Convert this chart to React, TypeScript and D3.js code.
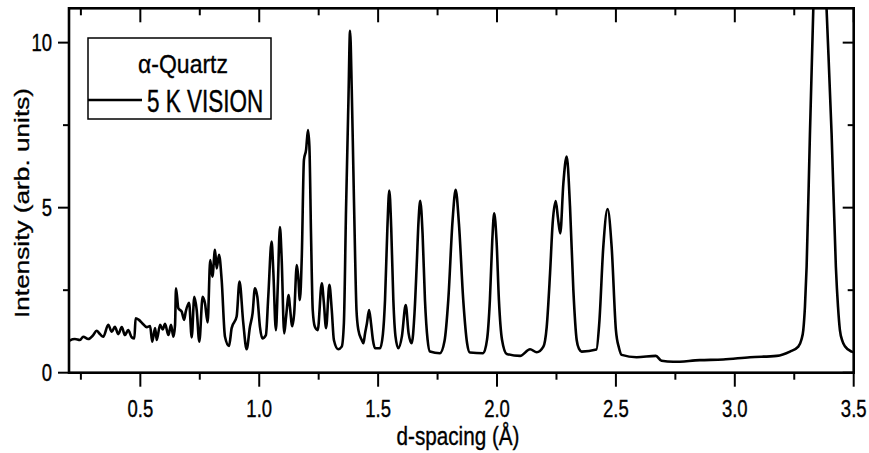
import React from "react";
import * as d3 from "d3";

// d-spacing (Å) and intensity (arb. units)
const dSpacing = [
  0.2, 0.204, 0.225, 0.246, 0.26, 0.281, 0.302, 0.316, 0.33, 0.344, 0.365, 0.38, 0.393, 0.407, 0.422,
  0.435, 0.449, 0.464, 0.475, 0.48, 0.494, 0.508, 0.527, 0.541, 0.55, 0.562, 0.569, 0.583, 0.594,
  0.604, 0.618, 0.629, 0.639, 0.646, 0.65, 0.66, 0.674, 0.684, 0.691, 0.705, 0.716, 0.727, 0.737,
  0.748, 0.762, 0.772, 0.783, 0.794, 0.803, 0.814, 0.821, 0.831, 0.842, 0.856, 0.873, 0.884, 0.905,
  0.917, 0.933, 0.947, 0.961, 0.972, 0.982, 0.992, 1.003, 1.013, 1.028, 1.038, 1.052, 1.059, 1.07,
  1.078, 1.087, 1.094, 1.105, 1.113, 1.124, 1.129, 1.139, 1.147, 1.158, 1.164, 1.171, 1.179, 1.188,
  1.197, 1.205, 1.211, 1.218, 1.225, 1.234, 1.246, 1.263, 1.272, 1.281, 1.295, 1.305, 1.314, 1.332,
  1.347, 1.356, 1.365, 1.375, 1.382, 1.389, 1.396, 1.403, 1.409, 1.417, 1.431, 1.438, 1.445, 1.453,
  1.462, 1.47, 1.478, 1.487, 1.508, 1.52, 1.529, 1.539, 1.547, 1.555, 1.564, 1.573, 1.585, 1.6,
  1.616, 1.628, 1.641, 1.653, 1.662, 1.67, 1.677, 1.687, 1.697, 1.708, 1.718, 1.76, 1.779, 1.795,
  1.813, 1.826, 1.84, 1.858, 1.874, 1.886, 1.942, 1.958, 1.97, 1.98, 1.988, 1.998, 2.008, 2.021,
  2.041, 2.097, 2.139, 2.167, 2.195, 2.209, 2.223, 2.234, 2.247, 2.256, 2.266, 2.279, 2.293, 2.307,
  2.321, 2.335, 2.345, 2.356, 2.418, 2.43, 2.447, 2.465, 2.482, 2.5, 2.513, 2.524, 2.587, 2.668,
  2.692, 2.741, 2.853, 2.951, 3.064, 3.176, 3.232, 3.267, 3.28, 3.288, 3.295, 3.302, 3.316, 3.33,
  3.354, 3.386, 3.407, 3.425, 3.434, 3.442, 3.453, 3.463, 3.491, 3.5,
];
const intensity = [
  0.96, 0.98, 1.02, 0.99, 1.09, 1.02, 1.14, 1.27, 1.17, 1.09, 1.45, 1.24, 1.39, 1.17, 1.38,
  1.14, 1.29, 1.07, 1.04, 1.65, 1.6, 1.5, 1.38, 1.41, 0.94, 1.35, 0.99, 1.45, 1.31,
  1.48, 1.14, 1.45, 1.09, 1.45, 2.56, 1.95, 1.85, 1.6, 1.85, 2.12, 1.07, 2.3, 1.9,
  0.94, 2.3, 2.1, 1.52, 3.41, 2.91, 3.72, 3.16, 3.57, 2.81, 1.09, 0.81, 1.35, 1.7,
  2.76, 1.5, 0.71, 1.39, 1.8, 2.56, 2.3, 1.39, 1.04, 1.14, 2.3, 3.97, 3.11, 1.29,
  2.61, 4.41, 3.52, 1.19, 1.7, 2.35, 2.0, 1.41, 1.8, 3.26, 2.91, 2.2, 3.52, 6.45,
  6.75, 7.35, 6.85, 4.12, 1.9, 1.39, 1.29, 2.71, 2.1, 1.35, 2.66, 1.9, 0.99, 0.71,
  0.79, 1.5, 4.93, 8.2, 10.36, 8.6, 6.1, 3.6, 1.9, 1.29, 0.99, 0.89, 1.19, 1.5,
  1.9, 1.5, 1.0, 0.74, 0.74, 1.16, 2.2, 4.4, 5.52, 4.4, 2.2, 1.1, 0.74, 1.1,
  2.05, 1.2, 0.89, 1.8, 3.21, 4.6, 5.21, 4.2, 2.2, 1.0, 0.64, 0.59, 0.95, 2.2,
  4.6, 5.54, 4.5, 2.2, 0.9, 0.61, 0.59, 1.0, 2.2, 4.0, 4.83, 4.0, 2.2, 1.0,
  0.57, 0.51, 0.71, 0.62, 0.79, 1.39, 3.01, 4.53, 5.2, 4.7, 4.22, 5.74, 6.55, 5.03,
  2.51, 0.99, 0.72, 0.64, 0.7, 1.5, 3.82, 4.96, 3.82, 1.29, 0.75, 0.54, 0.47, 0.51,
  0.36, 0.33, 0.38, 0.4, 0.47, 0.51, 0.64, 0.79, 1.0, 1.29, 2.0, 3.21, 7.25, 11.0,
  17.0, 11.0, 7.25, 3.21, 2.0, 1.29, 0.95, 0.8, 0.64, 0.62,
];

const xMajor = [0.5, 1.0, 1.5, 2.0, 2.5, 3.0, 3.5];
const xMinor = [0.25, 0.75, 1.25, 1.75, 2.25, 2.75, 3.25];
const yMajor = [0, 5, 10];
const yMinor = [2.5, 7.5];
const xLabels = ["0.5", "1.0", "1.5", "2.0", "2.5", "3.0", "3.5"];
const yLabels = ["0", "5", "10"];
const legendTitle = "α-Quartz";
const seriesName = "5 K VISION";
const xTitle = "d-spacing (Å)";
const yTitle = "Intensity (arb. units)";

const W = 869;
const H = 453;
const L = 69;
const R = 853.7;
const T = 8.3;
const B = 372.7;
const FONT = "'Liberation Sans', Arial, Helvetica, sans-serif";

type STProps = {
  x: number;
  y: number;
  size: number;
  sy: number;
  anchor?: string;
  rotate?: boolean;
  children: React.ReactNode;
};

function SText({ x, y, size, sy, anchor = "middle", rotate = false, children }: STProps) {
  return (
    <g transform={`translate(${x},${y}) scale(1,${sy})`}>
      <text
        textAnchor={anchor}
        fontSize={size}
        fontFamily={FONT}
        fill="#000"
        stroke="#000"
        strokeWidth={0.3}
        transform={rotate ? "rotate(-90)" : undefined}
      >
        {children}
      </text>
    </g>
  );
}

export default function App() {
  const x = d3.scaleLinear().domain([0.2, 3.5]).range([L, R]);
  const y = d3.scaleLinear().domain([0, 11.04]).range([B, T]);
  const pts: [number, number][] = dSpacing.map((d, i) => [d, intensity[i]]);
  const line = d3
    .line<[number, number]>()
    .x((p) => x(p[0]))
    .y((p) => y(p[1]))
    .curve(d3.curveMonotoneX);

  const tickW = 2;
  return (
    <svg
      width={W}
      height={H}
      style={{ position: "absolute", left: 0, top: 0, background: "#fff" }}
    >
      <defs>
        <clipPath id="plot">
          <rect x={L} y={T} width={R - L} height={B - T} />
        </clipPath>
      </defs>
      <rect x={0} y={0} width={W} height={H} fill="#fff" />
      <path
        d={line(pts) || ""}
        fill="none"
        stroke="#000"
        strokeWidth={2.6}
        strokeLinejoin="round"
        clipPath="url(#plot)"
      />
      {xMajor.map((v) => (
        <g key={"xM" + v} stroke="#000" strokeWidth={tickW}>
          <line x1={x(v)} x2={x(v)} y1={B} y2={B + 14} />
          <line x1={x(v)} x2={x(v)} y1={T} y2={T + 14} />
        </g>
      ))}
      {xMinor.map((v) => (
        <g key={"xm" + v} stroke="#000" strokeWidth={tickW}>
          <line x1={x(v)} x2={x(v)} y1={B} y2={B + 7} />
          <line x1={x(v)} x2={x(v)} y1={T} y2={T + 7} />
        </g>
      ))}
      {yMajor.map((v) => (
        <g key={"yM" + v} stroke="#000" strokeWidth={tickW}>
          <line x1={L - 11} x2={L} y1={y(v)} y2={y(v)} />
          <line x1={R - 11} x2={R} y1={y(v)} y2={y(v)} />
        </g>
      ))}
      {yMinor.map((v) => (
        <g key={"ym" + v} stroke="#000" strokeWidth={tickW}>
          <line x1={L - 6} x2={L} y1={y(v)} y2={y(v)} />
          <line x1={R - 6} x2={R} y1={y(v)} y2={y(v)} />
        </g>
      ))}
      <rect
        x={L}
        y={T}
        width={R - L}
        height={B - T}
        fill="none"
        stroke="#000"
        strokeWidth={2.6}
      />
      {xMajor.map((v, i) => (
        <SText key={"xl" + v} x={x(v)} y={417} size={18.5} sy={1.28}>
          {xLabels[i]}
        </SText>
      ))}
      {yMajor.map((v, i) => (
        <SText key={"yl" + v} x={52} y={y(v) + 8.3} size={18.5} sy={1.28} anchor="end">
          {yLabels[i]}
        </SText>
      ))}
      <SText x={458} y={445} size={20.7} sy={1.24}>
        {xTitle}
      </SText>
      <SText x={29} y={203} size={20.8} sy={1.26} rotate>
        {yTitle}
      </SText>
      <rect x={88} y={38} width={183} height={81} fill="#fff" stroke="#000" strokeWidth={1.5} />
      <SText x={183} y={72.5} size={23} sy={1.15}>
        {legendTitle}
      </SText>
      <line x1={88} x2={142} y1={100} y2={100} stroke="#000" strokeWidth={2.6} />
      <SText x={147} y={112} size={22.5} sy={1.42} anchor="start">
        {seriesName}
      </SText>
    </svg>
  );
}
